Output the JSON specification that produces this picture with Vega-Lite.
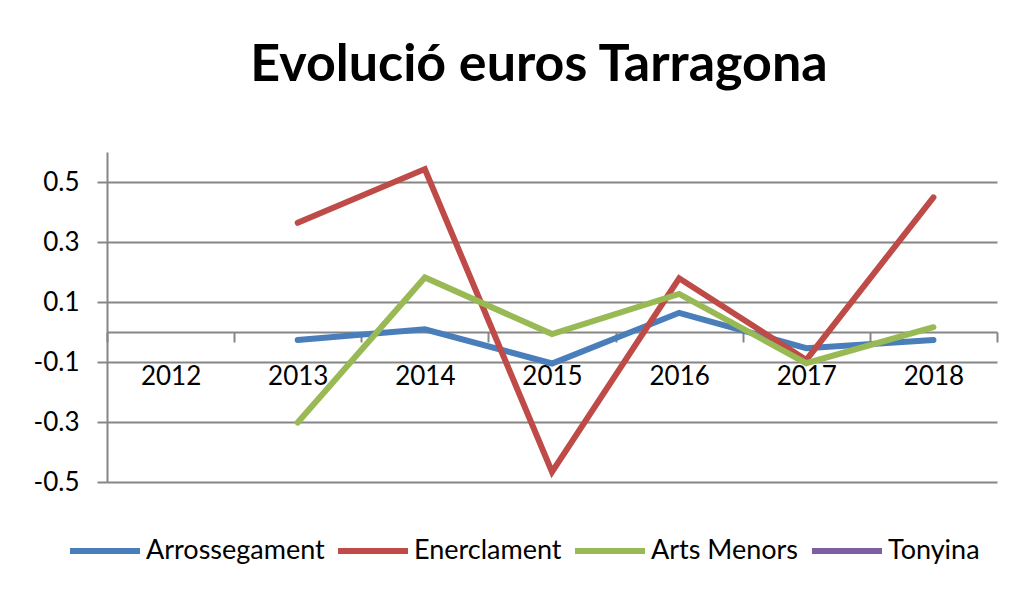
{
  "$schema": "https://vega.github.io/schema/vega-lite/v6.json",
  "width": 890,
  "height": 330,
  "autosize": {"type": "none"},
  "padding": {"left": 107, "top": 152, "right": 23, "bottom": 112},
  "background": "white",
  "title": {
    "text": "Evolució euros Tarragona",
    "font": "Lato",
    "fontSize": 52,
    "fontWeight": "bold",
    "color": "#000000",
    "anchor": "middle",
    "offset": 60,
    "dx": -13
  },
  "data": {
    "values": [
      {"year": "2013", "series": "Arrossegament", "value": -0.027},
      {"year": "2014", "series": "Arrossegament", "value": 0.009},
      {"year": "2015", "series": "Arrossegament", "value": -0.105},
      {"year": "2016", "series": "Arrossegament", "value": 0.064},
      {"year": "2017", "series": "Arrossegament", "value": -0.054},
      {"year": "2018", "series": "Arrossegament", "value": -0.027},
      {"year": "2013", "series": "Enerclament", "value": 0.364},
      {"year": "2014", "series": "Enerclament", "value": 0.543},
      {"year": "2015", "series": "Enerclament", "value": -0.466},
      {"year": "2016", "series": "Enerclament", "value": 0.179},
      {"year": "2017", "series": "Enerclament", "value": -0.093},
      {"year": "2018", "series": "Enerclament", "value": 0.449},
      {"year": "2013", "series": "Arts Menors", "value": -0.302},
      {"year": "2014", "series": "Arts Menors", "value": 0.182},
      {"year": "2015", "series": "Arts Menors", "value": -0.007},
      {"year": "2016", "series": "Arts Menors", "value": 0.127},
      {"year": "2017", "series": "Arts Menors", "value": -0.104},
      {"year": "2018", "series": "Arts Menors", "value": 0.016}
    ]
  },
  "mark": {"type": "line", "strokeWidth": 6, "strokeCap": "round", "strokeJoin": "miter"},
  "encoding": {
    "x": {
      "field": "year",
      "type": "ordinal",
      "scale": {"type": "band", "domain": ["2012", "2013", "2014", "2015", "2016", "2017", "2018"], "paddingInner": 0, "paddingOuter": 0},
      "axis": {
        "title": null,
        "orient": "bottom",
        "offset": -150,
        "labelAngle": 0,
        "domainColor": "#868686",
        "domainWidth": 2,
        "tickColor": "#868686",
        "tickWidth": 2,
        "tickSize": 10,
        "tickBand": "extent",
        "labelFont": "Lato",
        "labelFontSize": 26,
        "labelColor": "#000000",
        "labelPadding": 21,
        "grid": false
      }
    },
    "y": {
      "field": "value",
      "type": "quantitative",
      "scale": {"domain": [-0.5, 0.6], "nice": false, "zero": false},
      "axis": {
        "title": null,
        "values": [-0.5, -0.3, -0.1, 0.1, 0.3, 0.5],
        "labelExpr": "(datum.value < 0 ? '-' : '') + format(abs(datum.value), '.1f')",
        "domainColor": "#868686",
        "domainWidth": 2,
        "tickColor": "#868686",
        "tickWidth": 2,
        "tickSize": 10,
        "grid": true,
        "gridColor": "#868686",
        "gridWidth": 2,
        "gridOpacity": 1,
        "labelFont": "Lato",
        "labelFontSize": 26,
        "labelColor": "#000000",
        "labelPadding": 18
      }
    },
    "color": {
      "field": "series",
      "type": "nominal",
      "scale": {
        "domain": ["Arrossegament", "Enerclament", "Arts Menors", "Tonyina"],
        "range": ["#4A7EBB", "#BE4B48", "#98B954", "#7D5FA0"]
      },
      "legend": {
        "title": null,
        "orient": "none",
        "legendX": -40,
        "legendY": 361,
        "direction": "horizontal",
        "symbolType": "stroke",
        "symbolSize": 4900,
        "symbolStrokeWidth": 6,
        "labelFont": "Lato",
        "labelFontSize": 27,
        "labelColor": "#000000",
        "labelOffset": 3,
        "columnPadding": 1,
        "labelLimit": 300
      }
    }
  },
  "config": {
    "view": {"stroke": null}
  }
}
